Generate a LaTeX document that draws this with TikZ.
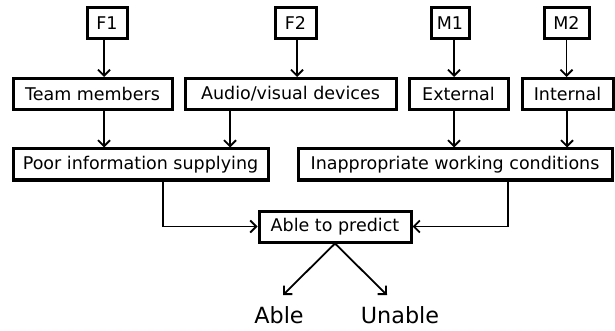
\documentclass[tikz,border=0pt]{standalone}
\usepackage{fontspec}
\setmainfont{DejaVu Sans}
\usetikzlibrary{arrows.meta}
\begin{document}
\begin{tikzpicture}[x=1pt,y=-1pt,
  box/.style={draw, line width=3pt, inner sep=0pt, minimum height=31pt,
    font=\fontsize{17.5}{21}\selectfont, anchor=center},
  conn/.style={line width=1.8pt, -{Straight Barb[length=6pt,width=12pt,line width=1.8pt]}},
  outcome/.style={inner sep=0pt, font=\fontsize{22.3}{26}\selectfont}
]
\useasboundingbox (0,0) rectangle (615,331);

% top row: sources
\node[box, minimum width=40pt] (f1) at (107,23) {F1};
\node[box, minimum width=41pt] (f2) at (295.5,23) {F2};
\node[box, minimum width=38pt] (m1) at (450,23) {M1};
\node[box, minimum width=45pt] (m2) at (566.5,23) {M2};

% second row: factors
\node[box, minimum width=159pt] (team) at (92.5,94) {Team members};
\node[box, minimum width=211pt] (audio) at (290.5,94) {Audio/visual devices};
\node[box, minimum width=99pt] (ext) at (458.5,94) {External};
\node[box, minimum width=91pt] (int) at (567.5,94) {Internal};

% third row: groupings
\node[box, minimum width=255pt] (poor) at (140.5,164.5) {Poor information supplying};
\node[box, minimum width=314pt] (inapp) at (455,164.5) {Inappropriate working conditions};

% decision
\node[box, minimum width=152pt] (pred) at (335,226.5) {Able to predict};

% outcomes
\node[outcome] (able) at (279,315) {Able};
\node[outcome] (unable) at (400,315) {Unable};

% vertical connectors
\draw[conn] ([xshift=-3pt]f1.south) -- ([xshift=-3pt]f1.south |- team.north);
\draw[conn] ([xshift=1.5pt]f2.south) -- ([xshift=1.5pt]f2.south |- audio.north);
\draw[conn] ([xshift=4pt]m1.south) -- ([xshift=4pt]m1.south |- ext.north);
\draw[conn] (m2.south) -- (m2.south |- int.north);

\draw[conn] ([xshift=11.5pt]team.south) -- ([xshift=11.5pt]team.south |- poor.north);
\draw[conn] ([xshift=-60.5pt]audio.south) -- ([xshift=-60.5pt]audio.south |- poor.north);
\draw[conn] ([xshift=-4.5pt]ext.south) -- ([xshift=-4.5pt]ext.south |- inapp.north);
\draw[conn] ([xshift=-0.5pt]int.south) -- ([xshift=-0.5pt]int.south |- inapp.north);

% elbow connectors into the decision
\draw[conn] ([xshift=22.5pt]poor.south) |- (pred.west);
\draw[conn] ([xshift=53pt]inapp.south) |- (pred.east);

% branches to the outcomes
\coordinate (lt) at (283,295);
\coordinate (rt) at (387,295);
\draw[conn] (pred.south) -- (lt);
\draw[conn] (pred.south) -- (rt);
\end{tikzpicture}
\end{document}
